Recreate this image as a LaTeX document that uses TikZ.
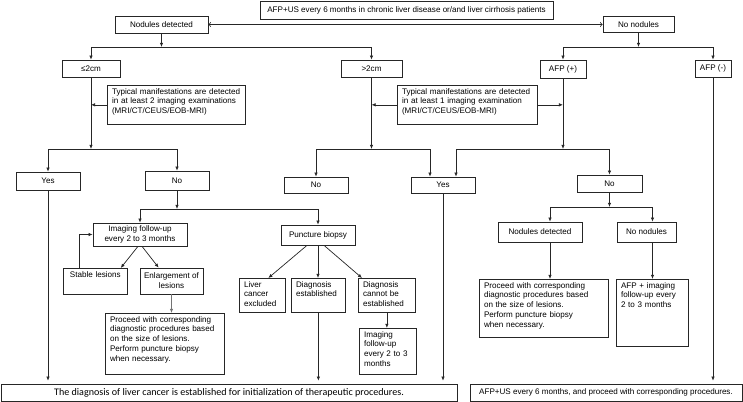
\documentclass[tikz,border=0pt]{standalone}
\usepackage{fontspec}
\setmainfont{Liberation Sans}
\newfontfamily\calibfont{Carlito}
\usetikzlibrary{arrows.meta}

\begin{document}
\begin{tikzpicture}[x=0.03cm, y=-0.03cm]
\tikzset{ >={Latex[length=3.5pt,width=3pt]}, inner sep=0pt,
  box/.style={draw=black!85, line width=0.6pt, align=center, font=\fontsize{6.9}{8.4}\selectfont},
  lbox/.style={box, anchor=north west, align=left, inner xsep=4pt, inner ysep=2.5pt, text height=5pt, text depth=#1},
  wire/.style={black!85, line width=0.6pt},
}

%\draw [lightgray, dashed] (0,0) grid [step=50] (743,402);
\useasboundingbox (0,0) rectangle (743,402);

\node [box, minimum width=8.79cm, minimum height=0.54cm] (TOP) at (406.5,10) {AFP+US every 6 months in chronic liver disease or/and liver cirrhosis patients};
\node [box, minimum width=2.79cm, minimum height=0.51cm] (ND) at (161.5,24.5) {Nodules detected};
\node [box, minimum width=2.13cm, minimum height=0.48cm] (NN) at (638.5,24.5) {No nodules};

\node [box, minimum width=1.74cm, minimum height=0.51cm] (S2) at (91,68.5) {≤2cm};
\node [box, minimum width=1.83cm, minimum height=0.51cm] (G2) at (371.5,68.5) {>2cm};
\node [box, minimum width=1.38cm, minimum height=0.54cm] (AP) at (563,69) {AFP (+)};
\node [box, minimum width=1.08cm, minimum height=0.51cm] (AM) at (713,68.5) {AFP (-)};

\node [lbox=23.3pt, text width=3.86cm] (TY2) at (107,85) {Typical manifestations are detected\\in at least 2 imaging examinations\\(MRI/CT/CEUS/EOB-MRI)};
\node [lbox=23.3pt, text width=3.92cm] (TY1) at (397,85) {Typical manifestations are detected\\in at least 1 imaging examination\\(MRI/CT/CEUS/EOB-MRI)};

\node [box, minimum width=1.92cm, minimum height=0.54cm] (Y1) at (48,181) {Yes};
\node [box, minimum width=1.92cm, minimum height=0.57cm] (N1) at (177,180.5) {No};
\node [box, minimum width=1.92cm, minimum height=0.48cm] (N2) at (316,185) {No};
\node [box, minimum width=1.92cm, minimum height=0.48cm] (Y2) at (443,185) {Yes};
\node [box, minimum width=1.95cm, minimum height=0.51cm] (N3) at (609.5,183.5) {No};

\node [box, minimum width=2.52cm, minimum height=0.6cm] (ND2) at (540,232) {Nodules detected};
\node [box, minimum width=1.77cm, minimum height=0.6cm] (NN2) at (646.5,232) {No nodules};

\node [box, minimum width=2.82cm, minimum height=0.69cm] (FU) at (140,234.5) {Imaging follow-up\\every 2 to 3 months};
\node [box, minimum width=2.22cm, minimum height=0.6cm] (PB) at (318,235) {Puncture biopsy};

\node [lbox=12.2pt, align=center, text width=1.64cm] (SL) at (63,268) {Stable lesions};
\node [box, minimum width=1.89cm, minimum height=0.78cm] (EL) at (171.5,281) {Enlargement of\\lesions};

\node [lbox=42.1pt, text width=3.29cm] (PR1) at (105,313) {Proceed with corresponding\\diagnostic procedures based\\on the size of lesions.\\Perform puncture biopsy\\when necessary.};
\node [lbox=19pt, text width=1.1cm] (LCE) at (239,278) {Liver\\cancer\\excluded};
\node [lbox=19pt, text width=1.34cm] (DE) at (291,278) {Diagnosis\\established};
\node [lbox=19pt, text width=1.43cm] (DCE) at (358,278) {Diagnosis\\cannot be\\established};
\node [lbox=29.3pt, text width=1.43cm] (FU2) at (359,328) {Imaging\\follow-up\\every 2 to 3\\months};
\node [lbox=39.5pt, text width=3.59cm] (PR2) at (479,279) {Proceed with corresponding\\diagnostic procedures based\\on the size of lesions.\\Perform puncture biopsy\\when necessary.};
\node [lbox=47.2pt, text width=1.88cm] (AFU) at (616,279) {AFP + imaging\\follow-up every\\2 to 3 months};

\node [box, minimum width=13.68cm, minimum height=0.51cm, font=\calibfont\fontsize{8.6}{9}\selectfont] (DX) at (229,392.5) {The diagnosis of liver cancer is established for initialization of therapeutic procedures.};
\node [box, minimum width=8.16cm, minimum height=0.51cm] (RE) at (606,392.5) {AFP+US every 6 months, and proceed with corresponding procedures.};

% junctions
\coordinate (J1) at (161.5,47);
\coordinate (J2) at (638.5,47);
\coordinate (J3) at (91,149);
\coordinate (J4) at (371.5,149);
\coordinate (J5) at (563,149);
\coordinate (J6) at (177,209);
\coordinate (J7) at (609.5,207);

\draw [wire, to-to] (ND) -- (NN);

\draw [wire, ->] (ND) -- (J1);
\draw [wire, ->] (J1) -| (S2);
\draw [wire, ->] (J1) -| (G2);
\draw [wire, ->] (NN) -- (J2);
\draw [wire, ->] (J2) -| (AP);
\draw [wire, ->] (J2) -| (AM);

\draw [wire, ->] (TY2.west) -- (TY2.west -| S2.south);
\draw [wire, ->] (TY1.west) -- (TY1.west -| G2.south);
\draw [wire, ->] (TY1.east) -- (TY1.east -| AP.south);

\draw [wire, ->] (S2) -- (J3);
\draw [wire, ->] (J3) -| (Y1);
\draw [wire, ->] (J3) -| (N1);
\draw [wire, ->] (G2) -- (J4);
\draw [wire, ->] (J4) -| (N2);
\draw [wire, ->] (J4) -| ([xshift=-0.39cm]Y2.north);
\draw [wire, ->] (AP) -- (J5);
\draw [wire, ->] (J5) -| ([xshift=0.39cm]Y2.north);
\draw [wire, ->] (J5) -| (N3);

\draw [wire, ->] (N1) -- (J6);
\draw [wire, ->] (J6) -| (FU);
\draw [wire, ->] (J6) -| (PB);
\draw [wire, ->] (N3) -- (J7);
\draw [wire, ->] (J7) -| ([xshift=0.3cm]ND2.north);
\draw [wire, ->] (J7) -| ([xshift=0.18cm]NN2.north);

\draw [wire, ->] ([xshift=-0.06cm]FU.south) -- ([xshift=-0.21cm]SL.north east);
\draw [wire, ->] ([xshift=0.06cm]FU.south) -- ([xshift=0.57cm]EL.north west);
\draw [wire, ->] ([xshift=-0.48cm]SL.north) |- (FU.west);
\draw [wire, black!55, ->] (EL.south) -- (EL.south |- PR1.north);

\draw [wire, ->] ([xshift=-0.33cm]PB.south) -- ([xshift=0.18cm]LCE.north);
\draw [wire, ->] (PB.south) -- (PB.south |- DE.north);
\draw [wire, ->] ([xshift=0.18cm]PB.south) -- ([xshift=0.12cm]DCE.north west);
\draw [wire, ->] (DCE.south) -- (DCE.south |- FU2.north);

\draw [wire, ->] ([xshift=0.3cm]ND2.south) -- ([xshift=0.3cm]ND2.south |- PR2.north);
\draw [wire, ->] ([xshift=0.18cm]NN2.south) -- ([xshift=0.18cm]NN2.south |- AFU.north);

\draw [wire, ->, shorten >=2.5pt] (Y1) -- (Y1 |- DX.north);
\draw [wire, ->, shorten >=2.5pt] (DE) -- (DE |- DX.north);
\draw [wire, ->, shorten >=2.5pt] (Y2) -- (Y2 |- DX.north);
\draw [wire, ->, shorten >=2.5pt] (AM) -- (AM |- RE.north);

\end{tikzpicture}
\end{document}
